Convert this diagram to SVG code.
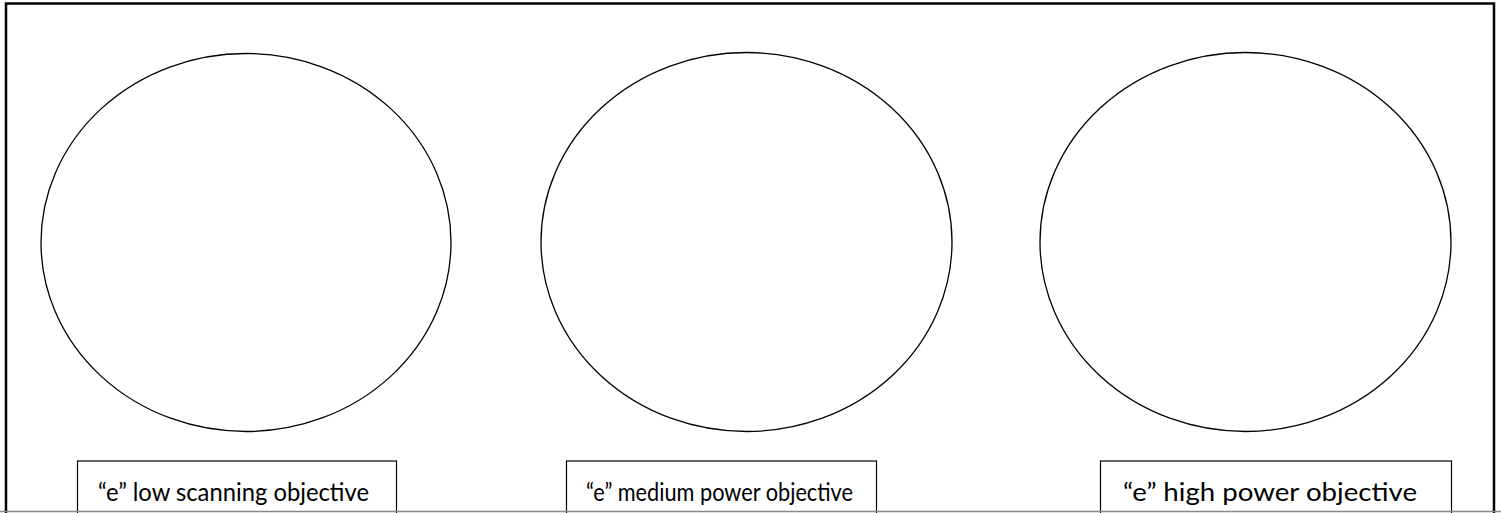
<svg xmlns="http://www.w3.org/2000/svg" width="1501" height="513" viewBox="0 0 1501 513">
<style>
.frame{fill:none;stroke:#000;stroke-width:2.5}
.lens{fill:#fff;stroke:#000;stroke-width:1.3}
.box{fill:#fff;stroke:#000;stroke-width:1.2}
.lbl{font-family:Lato,"Liberation Sans",sans-serif;font-size:25px;fill:#000}
</style>
<rect x="0" y="0" width="1501" height="513" fill="#fff"/>
<path class="frame" d="M6 530 V3.5 H1494 V530"/>
<g id="lens-low"><ellipse class="lens" cx="246" cy="242.5" rx="205" ry="189"/></g>
<g id="lens-medium"><ellipse class="lens" cx="746.5" cy="242" rx="205.5" ry="189.5"/></g>
<g id="lens-high"><ellipse class="lens" cx="1245.5" cy="242" rx="205.5" ry="189.5"/></g>
<g id="label-low"><rect class="box" x="77.5" y="461" width="319" height="70"/><text class="lbl" x="98" y="501" textLength="271" lengthAdjust="spacingAndGlyphs">“e” low scanning objective</text></g>
<g id="label-medium"><rect class="box" x="566.5" y="461" width="310" height="70"/><text class="lbl" x="586" y="501" textLength="267" lengthAdjust="spacingAndGlyphs">“e” medium power objective</text></g>
<g id="label-high"><rect class="box" x="1100.5" y="461" width="351" height="70"/><text class="lbl" x="1123" y="501" textLength="294" lengthAdjust="spacingAndGlyphs">“e” high power objective</text></g>
<g id="connectors"/>
<line x1="0" y1="511.5" x2="1501" y2="511.5" stroke="#888" stroke-width="1.5"/>
</svg>
